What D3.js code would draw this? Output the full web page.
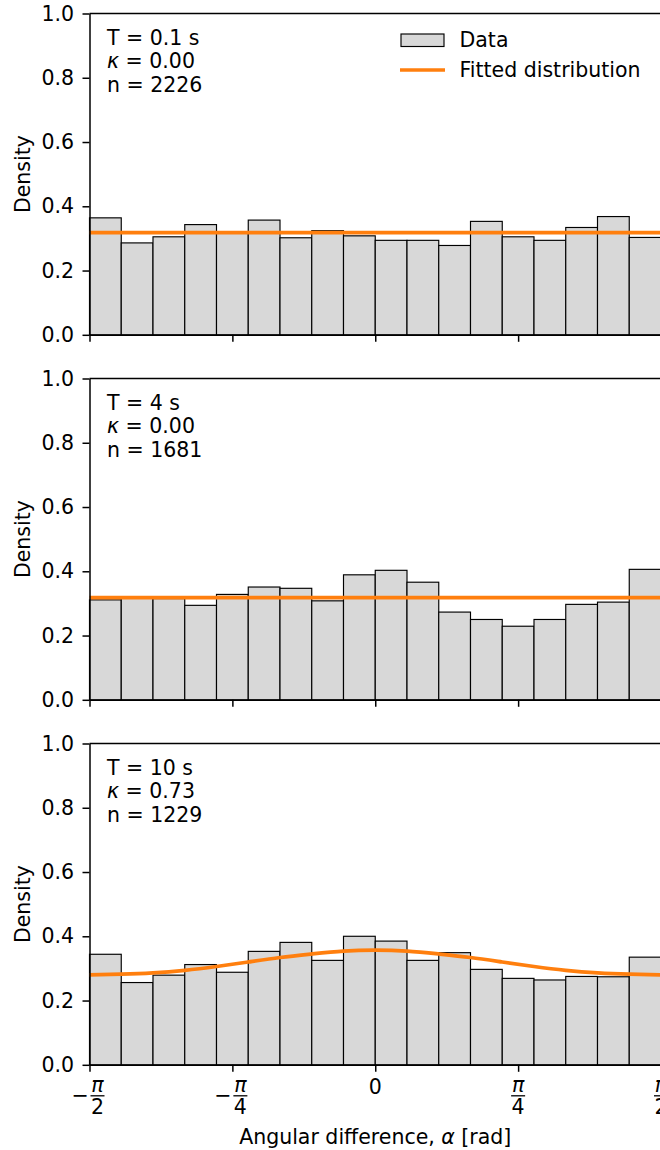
<!DOCTYPE html>
<html>
<head>
<meta charset="utf-8">
<script src="https://cdn.jsdelivr.net/npm/d3@7"></script>
<style>
  body { margin: 0; background: #fff; }
  text { font-family: "DejaVu Sans", sans-serif; }
</style>
</head>
<body>
<div id="my_dataviz"></div>
<script>
// panel annotations
const durations = ["0.1", "4", "10"]
const kappas = ["0.00", "0.00", "0.73"]
const counts = ["2226", "1681", "1229"]

// histogram densities, 18 equal bins from -pi/2 to pi/2
const density1 = [0.364, 0.286, 0.305, 0.343, 0.316, 0.357, 0.302, 0.324, 0.308, 0.294, 0.294, 0.278, 0.353, 0.305, 0.294, 0.334, 0.368, 0.303]
const density2 = [0.311, 0.316, 0.315, 0.294, 0.328, 0.351, 0.347, 0.308, 0.389, 0.403, 0.366, 0.273, 0.250, 0.229, 0.250, 0.297, 0.304, 0.406]
const density3 = [0.344, 0.256, 0.279, 0.312, 0.288, 0.353, 0.381, 0.325, 0.400, 0.385, 0.325, 0.349, 0.297, 0.269, 0.264, 0.275, 0.274, 0.335]

// fitted distribution, sampled evenly from -pi/2 to pi/2
const fit1 = [0.318, 0.318]
const fit2 = [0.318, 0.318]
const fit3 = [0.280, 0.282, 0.286, 0.294, 0.306, 0.320, 0.334, 0.345, 0.354, 0.357, 0.354, 0.345, 0.334, 0.320, 0.306, 0.294, 0.286, 0.282, 0.280]

// tick labels
const yTicks = [0, 0.2, 0.4, 0.6, 0.8, 1.0]
const xTicks = [-Math.PI / 2, -Math.PI / 4, 0, Math.PI / 4, Math.PI / 2]
const xTickSign = ["\u2212", "\u2212", "", "", ""]
const xTickDen = ["2", "4", "", "4", "2"]

const densities = [density1, density2, density3]
const fits = [fit1, fit2, fit3]

const width = 660
const height = 1150
const left = 89.5
const right = 661
const panelTop = [13.5, 378.5, 743.5]
const panelH = 321.3
const fs = 20.5

const svg = d3.select("#my_dataviz")
  .append("svg")
    .attr("width", width)
    .attr("height", height)

const x = d3.scaleLinear()
  .domain([-Math.PI / 2, Math.PI / 2])
  .range([left, right])

const nBins = 18
const binW = Math.PI / nBins

densities.forEach((dens, p) => {
  const top = panelTop[p]
  const bottom = top + panelH
  const y = d3.scaleLinear().domain([0, 1]).range([bottom, top])
  const g = svg.append("g")

  // bars
  g.selectAll("rect")
    .data(dens)
    .join("rect")
      .attr("x", (d, i) => x(-Math.PI / 2 + i * binW))
      .attr("width", x(binW) - x(0))
      .attr("y", d => y(d))
      .attr("height", d => y(0) - y(d))
      .attr("fill", "#d8d8d8")
      .attr("stroke", "#000")
      .attr("stroke-width", 1.15)

  // fitted line
  const fit = fits[p]
  const step = Math.PI / (fit.length - 1)
  const line = d3.line()
    .x((d, i) => x(-Math.PI / 2 + i * step))
    .y(d => y(d))
    .curve(d3.curveNatural)
  g.append("path")
    .datum(fit)
    .attr("d", line)
    .attr("fill", "none")
    .attr("stroke", "#ff7f0e")
    .attr("stroke-width", 3.7)

  // y axis
  const ya = g.append("g")
    .attr("transform", `translate(${left},0)`)
    .call(d3.axisLeft(y).tickValues(yTicks).tickFormat(d3.format(".1f")).tickSize(7).tickPadding(8.5).tickSizeOuter(0))
  ya.selectAll("text").attr("font-size", fs).attr("font-family", "DejaVu Sans").attr("fill", "#000")
  ya.selectAll("line, path").attr("stroke-width", 1.5).attr("stroke", "#000")

  // x axis (ticks only)
  const xa = g.append("g")
    .attr("transform", `translate(0,${bottom})`)
    .call(d3.axisBottom(x).tickValues(xTicks).tickFormat("").tickSize(7).tickSizeOuter(0))
  xa.selectAll("line, path").attr("stroke-width", 1.5).attr("stroke", "#000")

  // top spine
  g.append("line")
    .attr("x1", left).attr("x2", right)
    .attr("y1", top).attr("y2", top)
    .attr("stroke", "#000").attr("stroke-width", 1.5)

  // y label
  g.append("text")
    .attr("transform", `translate(29.5,${top + panelH / 2}) rotate(-90)`)
    .attr("text-anchor", "middle")
    .attr("font-size", fs)
    .text("Density")

  // annotation
  const ann = g.append("text").attr("font-size", fs).attr("x", 107)
  ann.append("tspan").attr("x", 107).attr("y", top + 31.5).text(`T = ${durations[p]} s`)
  const k = ann.append("tspan").attr("x", 107).attr("y", top + 54.5)
  k.append("tspan").attr("font-style", "italic").text("\u03ba")
  k.append("tspan").text(` = ${kappas[p]}`)
  ann.append("tspan").attr("x", 107).attr("y", top + 78.5).text(`n = ${counts[p]}`)

  // legend on first panel
  if (p === 0) {
    const lg = g.append("g")
    lg.append("rect")
      .attr("x", 401).attr("y", 34).attr("width", 43).attr("height", 12.5)
      .attr("fill", "#d8d8d8").attr("stroke", "#000").attr("stroke-width", 1.15)
    lg.append("text").attr("x", 459.5).attr("y", 47).attr("font-size", fs).text("Data")
    lg.append("line")
      .attr("x1", 400).attr("x2", 445).attr("y1", 70).attr("y2", 70)
      .attr("stroke", "#ff7f0e").attr("stroke-width", 3.7)
    lg.append("text").attr("x", 459.5).attr("y", 77).attr("font-size", fs).text("Fitted distribution")
  }

  // x tick labels on last panel
  if (p === densities.length - 1) {
    xTicks.forEach((t, i) => {
      const cx = x(t)
      if (xTickDen[i] === "") {
        g.append("text").attr("x", cx).attr("y", bottom + 29)
          .attr("text-anchor", "middle").attr("font-size", fs).text("0")
        return
      }
      const fx = xTickSign[i] ? cx + 8 : cx
      if (xTickSign[i]) {
        g.append("text").attr("x", cx - 9.5).attr("y", bottom + 37)
          .attr("text-anchor", "middle").attr("font-size", fs).text(xTickSign[i])
      }
      g.append("text").attr("x", fx).attr("y", bottom + 27)
        .attr("text-anchor", "middle").attr("font-size", fs)
        .attr("font-style", "italic").text("\u03c0")
      g.append("line")
        .attr("x1", fx - 7).attr("x2", fx + 7)
        .attr("y1", bottom + 31).attr("y2", bottom + 31)
        .attr("stroke", "#000").attr("stroke-width", 1.3)
      g.append("text").attr("x", fx).attr("y", bottom + 49.5)
        .attr("text-anchor", "middle").attr("font-size", fs).text(xTickDen[i])
    })

    g.append("text")
      .attr("x", x(0)).attr("y", bottom + 79)
      .attr("text-anchor", "middle")
      .attr("font-size", fs)
      .call(t => {
        t.append("tspan").text("Angular difference, ")
        t.append("tspan").attr("font-style", "italic").text("\u03b1")
        t.append("tspan").text(" [rad]")
      })
  }
})
</script>
</body>
</html>
